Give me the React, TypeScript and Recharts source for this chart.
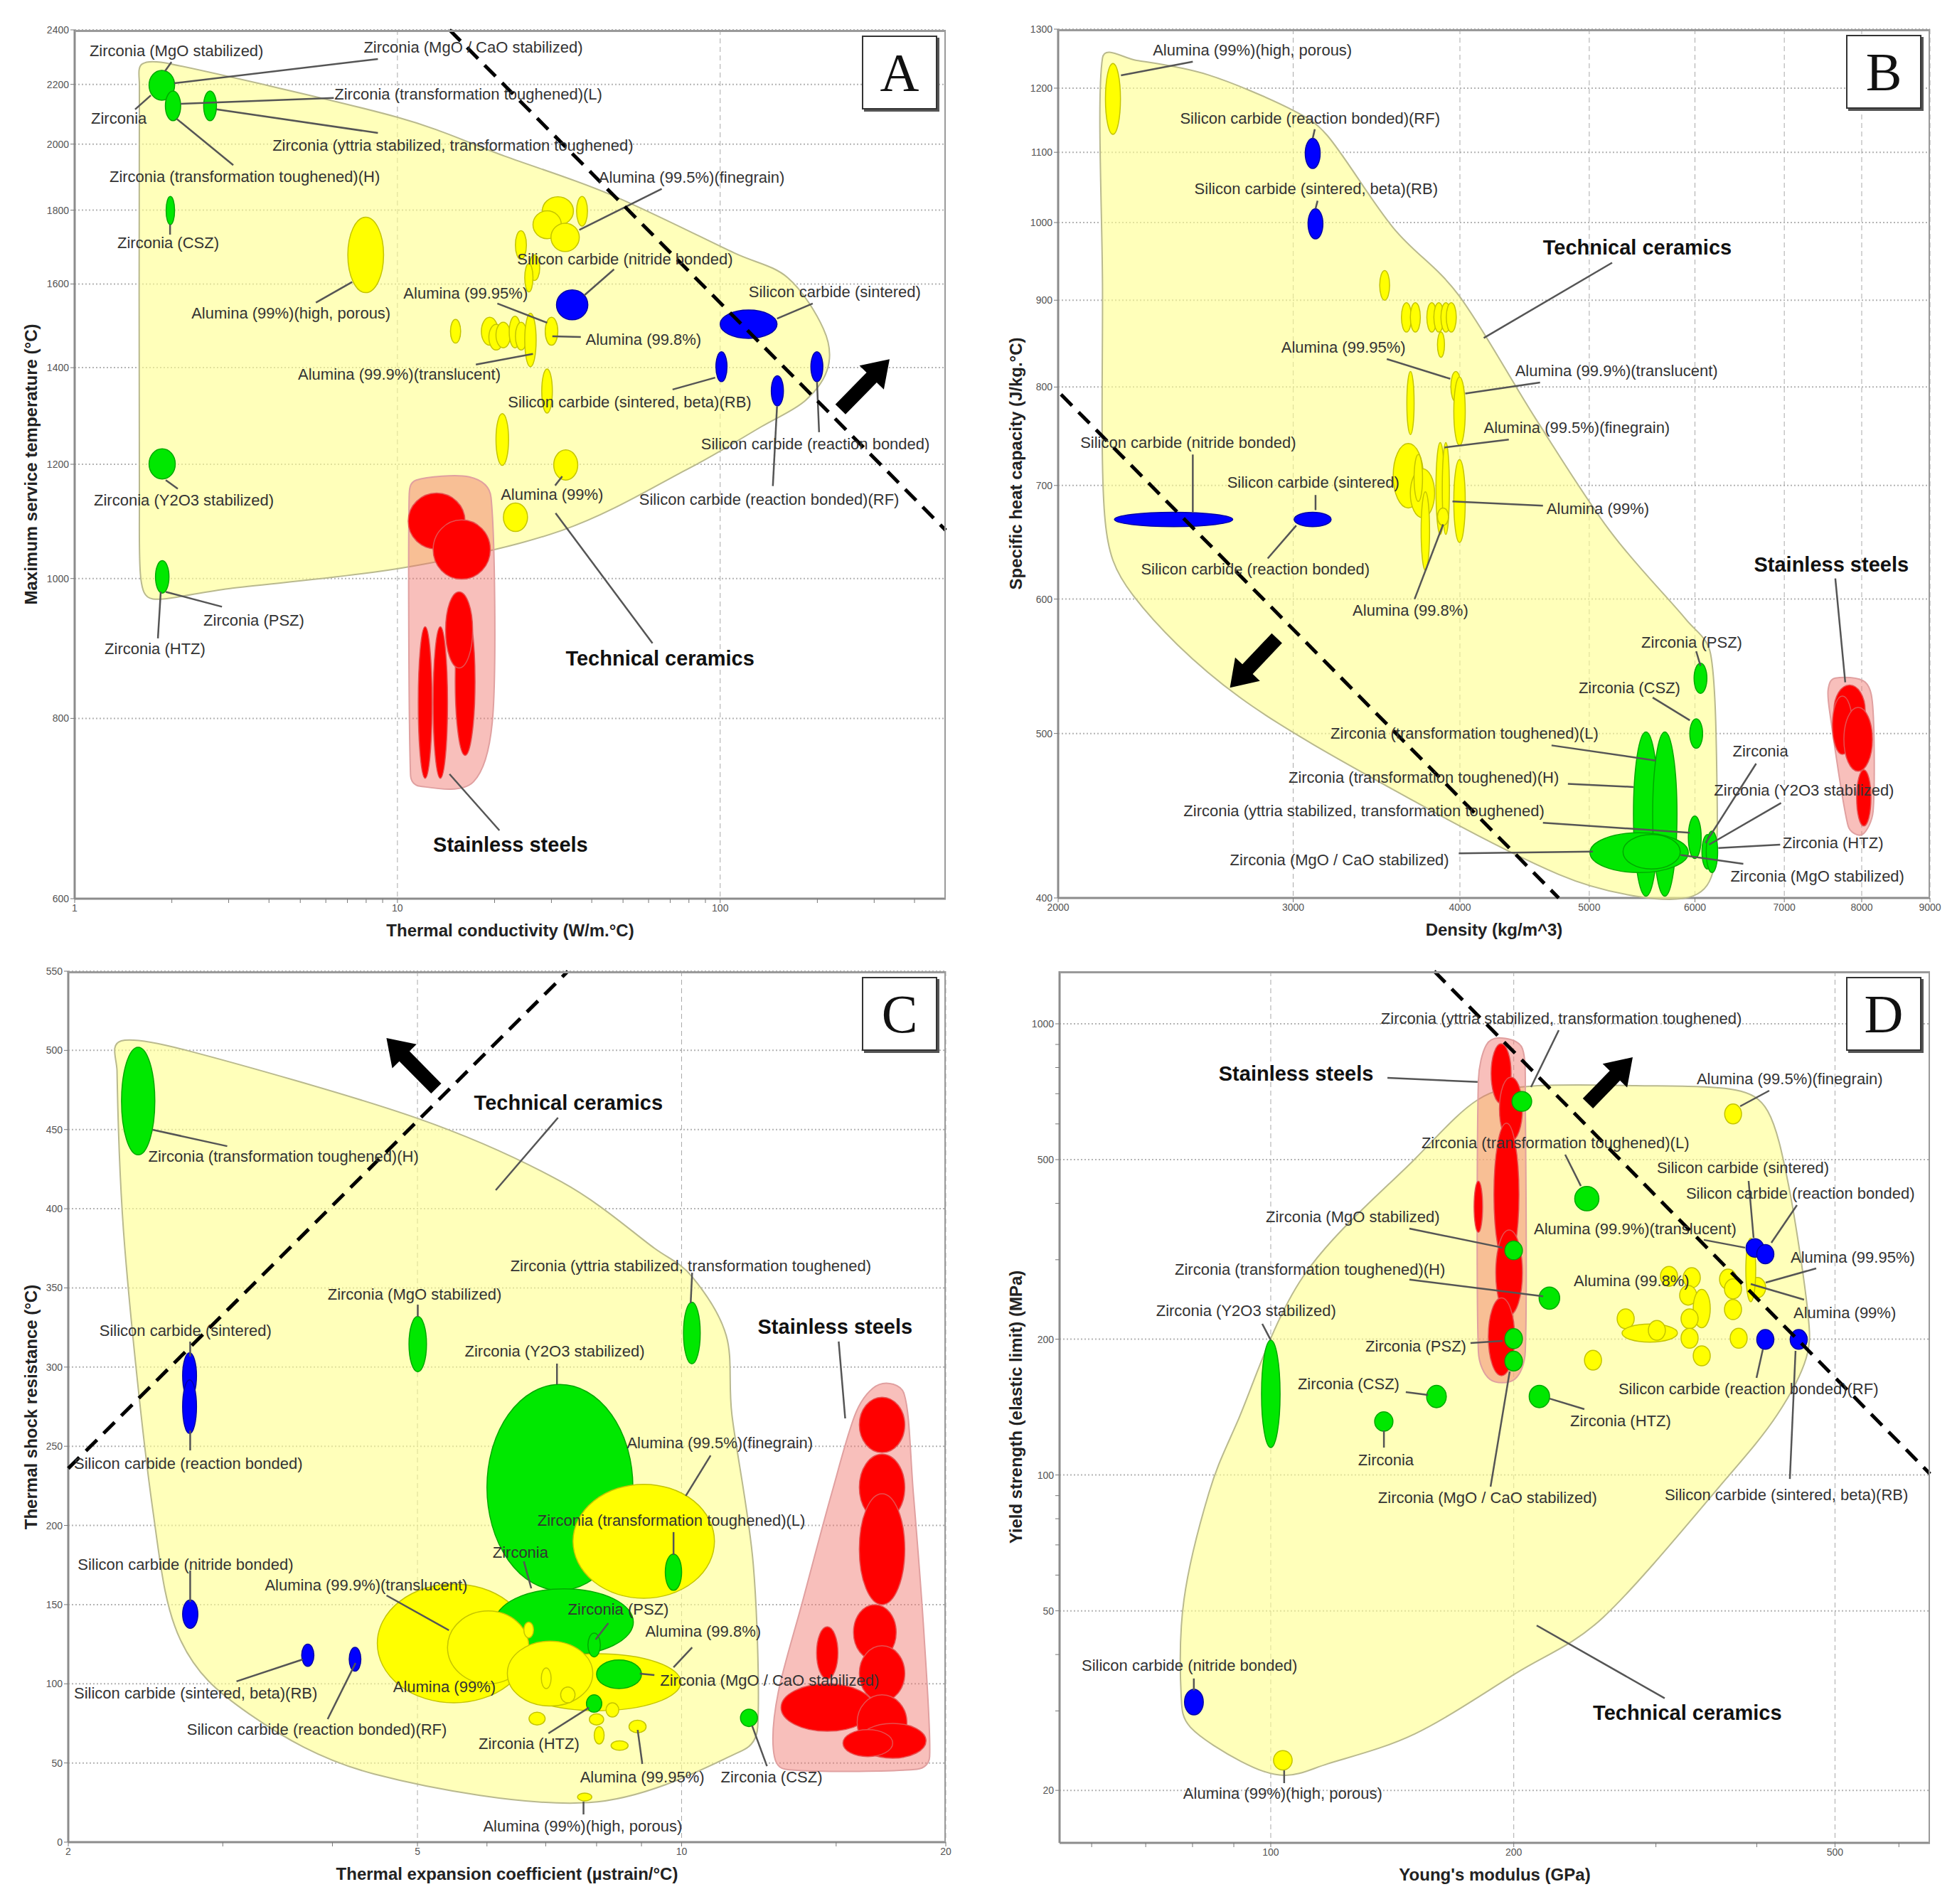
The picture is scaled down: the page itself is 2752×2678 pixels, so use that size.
import React from 'react';
import { ScatterChart, Scatter, XAxis, YAxis, CartesianGrid } from 'recharts';

type Fam = 'zr' | 'al' | 'sic' | 'ss';
type Ell = [Fam, number, number, number, number];
type Pt = [number, number];
type Lab = [string, number, number, number?];
type Seg = [number, number, number, number];

const FONT = '"Liberation Sans", Arial, Helvetica, sans-serif';
const FILL: Record<Fam, string> = { zr: '#00e800', al: '#ffff00', sic: '#0000ff', ss: '#ff0000' };
const EDGE: Record<Fam, string> = { zr: '#00a800', al: '#c4c400', sic: '#0000aa', ss: '#e65050' };

// ---------- A: max service temperature vs thermal conductivity
const A_X_MAJOR = [1, 10, 100];
const A_X_TICKS = [1, 2, 3, 4, 5, 6, 7, 8, 9, 10, 20, 30, 40, 50, 60, 70, 80, 90, 100, 200, 300, 400];
const A_Y_MAJOR = [600, 800, 1000, 1200, 1400, 1600, 1800, 2000, 2200, 2400];
const A_HULL: Pt[] = [[1.62, 2273], [1.985, 2273], [9.97, 2088], [21.5, 1962], [45.8, 1845], [110.7, 1681], [162, 1616], [209, 1489], [216, 1402], [184, 1329], [134, 1274], [78.8, 1190], [32.4, 1080], [10.6, 1018], [3.0, 984], [1.748, 968], [1.604, 999], [1.587, 1138], [1.587, 2197]];
const A_STEEL: Pt[] = [[11.44, 1170], [16.7, 1176], [19.5, 1138], [19.8, 810], [17.2, 723], [11.73, 718], [10.98, 731], [10.87, 1138]];
const A_ELL: Ell[] = [
  ['al', 7.02, 9.06, 1578, 1780], ['al', 28.1, 35.1, 1757, 1839], ['al', 26.3, 32.2, 1720, 1798], ['al', 29.9, 36.6, 1685, 1763],
  ['al', 35.9, 38.8, 1755, 1840], ['al', 23.2, 25.1, 1664, 1742], ['al', 25.6, 27.6, 1609, 1676], ['al', 24.8, 26.3, 1580, 1653],
  ['al', 14.6, 15.7, 1456, 1512], ['al', 18.2, 20.5, 1451, 1517], ['al', 19.2, 21.3, 1440, 1500], ['al', 20.2, 22.4, 1445, 1505],
  ['al', 22.2, 24.1, 1445, 1520], ['al', 23.2, 25.2, 1440, 1505], ['al', 24.8, 26.9, 1402, 1527], ['al', 28.7, 31.4, 1451, 1517],
  ['al', 28.0, 30.2, 1302, 1397], ['al', 20.2, 22.1, 1198, 1301], ['al', 30.5, 36.2, 1170, 1228], ['al', 21.3, 25.3, 1078, 1128],
  ['sic', 31.1, 38.9, 1511, 1585], ['sic', 100, 150, 1467, 1535], ['sic', 97, 105, 1369, 1436], ['sic', 144, 157, 1317, 1382], ['sic', 191, 208, 1369, 1436],
  ['zr', 1.70, 2.04, 2145, 2250], ['zr', 1.91, 2.13, 2076, 2177], ['zr', 2.51, 2.75, 2076, 2177], ['zr', 1.92, 2.04, 1759, 1840],
  ['zr', 1.70, 2.05, 1172, 1230], ['zr', 1.78, 1.96, 977, 1029],
  ['ss', 11.6, 12.8, 727, 926], ['ss', 12.9, 14.3, 727, 926], ['ss', 15.1, 17.4, 754, 956], ['ss', 14.1, 17.1, 867, 979],
  ['ss', 10.8, 16.2, 1048, 1146], ['ss', 12.9, 19.4, 999, 1098],
];
const A_LABELS: Lab[] = [
  ['Zirconia (MgO stabilized)', 1.112, 2320], ['Zirconia (MgO / CaO stabilized)', 7.86, 2333],
  ['Zirconia (transformation toughened)(L)', 6.38, 2165], ['Zirconia', 1.124, 2083],
  ['Zirconia (yttria stabilized, transformation toughened)', 4.10, 1996], ['Zirconia (transformation toughened)(H)', 1.282, 1899],
  ['Zirconia (CSZ)', 1.356, 1708], ['Alumina (99%)(high, porous)', 2.30, 1527], ['Alumina (99.5%)(finegrain)', 42.0, 1897],
  ['Silicon carbide (nitride bonded)', 23.5, 1664], ['Silicon carbide (sintered)', 122.5, 1580], ['Alumina (99.95%)', 10.44, 1576],
  ['Alumina (99.8%)', 38.3, 1465], ['Alumina (99.9%)(translucent)', 4.92, 1385], ['Silicon carbide (sintered, beta)(RB)', 22.0, 1325],
  ['Silicon carbide (reaction bonded)', 87.2, 1239], ['Silicon carbide (reaction bonded)(RF)', 56.1, 1135], ['Alumina (99%)', 20.9, 1144],
  ['Zirconia (Y2O3 stabilized)', 1.147, 1133], ['Zirconia (PSZ)', 2.506, 936], ['Zirconia (HTZ)', 1.238, 894],
  ['Technical ceramics', 33.2, 880, 1], ['Stainless steels', 12.9, 654, 1],
];
const A_LEADERS: Seg[] = [
  [1.995, 2280, 1.905, 2247], [8.70, 2291, 2.035, 2204], [6.35, 2153, 2.131, 2133], [1.539, 2114, 1.722, 2162],
  [2.747, 2114, 8.70, 2036], [2.067, 2083, 3.10, 1934], [1.975, 1759, 1.975, 1731], [7.24, 1605, 5.59, 1553],
  [65.9, 1862, 36.6, 1744], [46.9, 1638, 37.9, 1571], [193.5, 1551, 150, 1514], [20.4, 1551, 29.1, 1504],
  [37.0, 1470, 30.2, 1472], [17.5, 1407, 26.3, 1431], [71.2, 1352, 96.5, 1378], [202.5, 1263, 199.5, 1369],
  [145.6, 1159, 150, 1316], [30.8, 1160, 32.4, 1177], [2.087, 1154, 1.915, 1170], [2.86, 956, 1.915, 979],
  [1.811, 909, 1.848, 979], [61.7, 902, 30.9, 1110], [20.7, 669, 14.5, 732],
];
const A_TREND: Pt[] = [[14.5, 2400], [500, 1080]];
const A_ARROW: Pt[] = [[235.8, 1310], [334.8, 1419]];

// ---------- B: specific heat vs density
const B_X_MAJOR = [2000, 3000, 4000, 5000, 6000, 7000, 8000, 9000];
const B_Y_MAJOR = [400, 500, 600, 700, 800, 900, 1000, 1100, 1200, 1300];
const B_HULL: Pt[] = [[2159, 1250], [2290, 1246], [2589, 1222], [2983, 1167], [3180, 1126], [3565, 993], [3992, 906], [4560, 766], [5182, 658], [5904, 584], [6164, 557], [6232, 468], [6201, 417], [5977, 401], [5417, 401], [4743, 413], [3699, 456], [2737, 525], [2276, 603], [2169, 667], [2159, 920]];
const B_STEEL: Pt[] = [[7644, 539], [8049, 536], [8159, 515], [8159, 450], [8009, 436], [7815, 441], [7570, 515], [7551, 531]];
const B_ELL: Ell[] = [
  ['al', 2170, 2227, 1127, 1241], ['al', 3483, 3543, 900, 937], ['al', 3616, 3679, 862, 897], ['al', 3672, 3736, 862, 897],
  ['al', 3778, 3843, 862, 897], ['al', 3824, 3890, 862, 897], ['al', 3871, 3938, 862, 897], ['al', 3907, 3975, 862, 897],
  ['al', 3848, 3895, 833, 862], ['al', 3650, 3696, 750, 817], ['al', 3938, 4006, 784, 817], ['al', 3958, 4037, 739, 811],
  ['al', 3565, 3755, 679, 741], ['al', 3672, 3829, 670, 716], ['al', 3696, 3750, 685, 730], ['al', 3741, 3796, 624, 694],
  ['al', 3838, 3895, 655, 742], ['al', 3880, 3928, 655, 742], ['al', 3848, 3922, 663, 679], ['al', 3958, 4037, 648, 725],
  ['sic', 3063, 3143, 1076, 1121], ['sic', 3078, 3158, 978, 1019], ['sic', 2204, 2703, 662, 675], ['sic', 3005, 3203, 662, 675],
  ['zr', 5991, 6125, 528, 550], ['zr', 5947, 6080, 490, 510], ['zr', 5396, 5634, 401, 501], ['zr', 5578, 5817, 401, 501],
  ['zr', 5006, 5932, 414, 437], ['zr', 5300, 5850, 416, 436], ['zr', 5932, 6065, 422, 447], ['zr', 6073, 6193, 416, 436],
  ['zr', 6118, 6240, 414, 438],
  ['ss', 7625, 8049, 498, 534], ['ss', 7606, 7872, 486, 526], ['ss', 7758, 8149, 475, 518], ['ss', 7930, 8129, 441, 476],
];
const B_LABELS: Lab[] = [
  ['Alumina (99%)(high, porous)', 2355, 1263], ['Silicon carbide (reaction bonded)(RF)', 2468, 1152],
  ['Silicon carbide (sintered, beta)(RB)', 2530, 1047], ['Technical ceramics', 4616, 967, 1], ['Alumina (99.95%)', 2939, 844],
  ['Alumina (99.9%)(translucent)', 4400, 818], ['Alumina (99.5%)(finegrain)', 4168, 757], ['Silicon carbide (nitride bonded)', 2078, 742],
  ['Silicon carbide (sintered)', 2677, 703], ['Alumina (99%)', 4645, 678], ['Silicon carbide (reaction bonded)', 2307, 625],
  ['Alumina (99.8%)', 3324, 591], ['Stainless steels', 6643, 629, 1], ['Zirconia (PSZ)', 5470, 566], ['Zirconia (CSZ)', 4909, 532],
  ['Zirconia (transformation toughened)(L)', 3200, 500], ['Zirconia', 6403, 488], ['Zirconia (transformation toughened)(H)', 2976, 471],
  ['Zirconia (Y2O3 stabilized)', 6201, 463], ['Zirconia (yttria stabilized, transformation toughened)', 2483, 450],
  ['Zirconia (HTZ)', 6979, 431], ['Zirconia (MgO / CaO stabilized)', 2690, 421], ['Zirconia (MgO stabilized)', 6379, 412],
];
const B_LEADERS: Seg[] = [
  [2523, 1244, 2229, 1221], [3114, 1135, 3103, 1121], [3129, 1030, 3118, 1019], [5201, 947, 4168, 855], [3526, 831, 3934, 809],
  [4593, 805, 4037, 793], [4352, 745, 3895, 737], [2523, 730, 2523, 675], [3118, 691, 3118, 677], [4616, 681, 3949, 685],
  [2871, 634, 3016, 663], [3699, 600, 3886, 664], [7644, 617, 7776, 536], [6013, 559, 6058, 548], [5578, 525, 5947, 509],
  [4685, 492, 5607, 482], [6668, 480, 6111, 431], [4819, 467, 5396, 465], [6961, 455, 6148, 430], [4616, 443, 5947, 437],
  [6950, 430, 6247, 428], [3992, 425, 5031, 426], [6522, 419, 5853, 424],
];
const B_TREND: Pt[] = [[2010, 792], [4743, 400]];
const B_ARROW: Pt[] = [[2917, 569], [2690, 532]];

// ---------- C: thermal shock resistance vs thermal expansion
const C_X_MAJOR = [2, 5, 10, 20];
const C_X_TICKS = [2, 3, 4, 5, 6, 7, 8, 9, 10, 15, 20];
const C_Y_MAJOR = [0, 50, 100, 150, 200, 250, 300, 350, 400, 450, 500, 550];
const C_HULL: Pt[] = [[2.298, 506], [2.729, 500], [5.004, 457], [7.293, 417], [9.313, 375], [10.28, 357], [11.24, 320], [11.41, 270], [12.07, 175], [12.21, 73], [11.74, 58], [7.844, 25], [4.465, 43], [3.215, 81], [2.683, 128], [2.495, 211], [2.320, 375], [2.273, 487]];
const C_STEEL: Pt[] = [[15.82, 272], [16.79, 289], [17.93, 283], [18.37, 220], [18.89, 131], [19.17, 54], [18.54, 46], [13.13, 46], [12.72, 59], [12.89, 95], [13.75, 153], [14.82, 220]];
const C_ELL: Ell[] = [
  ['al', 4.50, 6.72, 88, 163], ['zr', 6.0, 8.8, 159, 289], ['zr', 6.13, 8.81, 118, 160], ['al', 7.52, 10.9, 154, 226],
  ['al', 5.41, 6.70, 100, 146], ['al', 6.45, 9.98, 83, 119], ['al', 6.33, 7.92, 86, 127],
  ['al', 6.70, 6.99, 74, 82], ['al', 8.71, 9.11, 69, 77], ['al', 8.31, 8.69, 58, 64], ['al', 7.85, 8.15, 74, 81],
  ['al', 7.95, 8.16, 62, 73], ['al', 8.20, 8.48, 79, 88], ['al', 6.92, 7.10, 97, 110], ['al', 7.28, 7.56, 88, 98],
  ['al', 6.61, 6.78, 129, 139], ['al', 7.61, 7.90, 26, 31],
  ['zr', 2.30, 2.51, 434, 502], ['zr', 4.89, 5.12, 297, 332], ['zr', 10.05, 10.5, 302, 341], ['zr', 8.0, 9.0, 97, 115],
  ['zr', 9.58, 10.0, 159, 182], ['zr', 7.82, 8.08, 117, 132], ['zr', 7.79, 8.11, 82, 93], ['zr', 11.67, 12.2, 73, 84],
  ['sic', 2.70, 2.80, 280, 309], ['sic', 2.70, 2.80, 258, 292], ['sic', 2.70, 2.81, 135, 153], ['sic', 3.69, 3.81, 111, 125], ['sic', 4.18, 4.31, 108, 123],
  ['ss', 15.94, 17.96, 246, 281], ['ss', 15.94, 17.96, 203, 245], ['ss', 15.94, 17.96, 150, 220], ['ss', 15.7, 17.56, 115, 150],
  ['ss', 15.94, 17.96, 89, 124], ['ss', 14.25, 15.07, 103, 136], ['ss', 12.98, 16.55, 70, 100], ['ss', 15.85, 18.06, 58, 93],
  ['ss', 15.94, 18.99, 53, 75], ['ss', 15.27, 17.4, 54, 71],
];
const C_LABELS: Lab[] = [
  ['Technical ceramics', 5.80, 467, 1], ['Zirconia (transformation toughened)(H)', 2.467, 433],
  ['Zirconia (yttria stabilized, transformation toughened)', 6.38, 364], ['Zirconia (MgO stabilized)', 3.95, 346],
  ['Silicon carbide (sintered)', 2.17, 323], ['Zirconia (Y2O3 stabilized)', 5.66, 310], ['Stainless steels', 12.21, 325.5, 1],
  ['Silicon carbide (reaction bonded)', 2.03, 239], ['Alumina (99.5%)(finegrain)', 8.66, 252],
  ['Zirconia (transformation toughened)(L)', 6.85, 203], ['Silicon carbide (nitride bonded)', 2.05, 175.5], ['Zirconia', 6.09, 183],
  ['Alumina (99.9%)(translucent)', 3.35, 162.5], ['Zirconia (PSZ)', 7.42, 147], ['Alumina (99.8%)', 9.09, 133],
  ['Silicon carbide (sintered, beta)(RB)', 2.03, 94], ['Alumina (99%)', 4.69, 98], ['Zirconia (MgO / CaO stabilized)', 9.45, 102],
  ['Silicon carbide (reaction bonded)(RF)', 2.73, 71], ['Zirconia (HTZ)', 5.87, 62], ['Alumina (99.95%)', 7.66, 41],
  ['Zirconia (CSZ)', 11.08, 41], ['Alumina (99%)(high, porous)', 5.94, 10],
];
const C_LEADERS: Seg[] = [
  [7.23, 457.5, 6.14, 411.7], [3.035, 439.5, 2.495, 449.9], [10.28, 359.6, 10.24, 340.3], [5.004, 339.4, 5.004, 331.8],
  [2.754, 316.1, 2.754, 306.6], [7.21, 302.2, 7.21, 289.1], [15.10, 316.1, 15.36, 267.6], [2.754, 247.4, 2.754, 260],
  [10.79, 244.2, 10.11, 218.7], [9.79, 195.8, 9.79, 181.4], [2.754, 171.5, 2.754, 151.8], [6.61, 177.3, 6.74, 160.3],
  [4.61, 155.8, 5.43, 133.8], [8.25, 138.3, 7.98, 128], [10.28, 123, 9.79, 110.4], [3.11, 101.5, 3.70, 115.4],
  [9.31, 105.5, 8.96, 106.4], [3.95, 77.7, 4.25, 113.1], [7.05, 68.7, 7.84, 84.9], [9.02, 49.4, 8.91, 70.9],
  [12.51, 48, 12.03, 73.6], [7.73, 17.5, 7.73, 25.6],
];
const C_TREND: Pt[] = [[2.0, 236], [7.42, 550]];
const C_ARROW: Pt[] = [[5.252, 475.9], [4.609, 507.8]];

// ---------- D: yield strength vs Young's modulus
const D_X_MAJOR = [100, 200, 500];
const D_X_TICKS = [60, 70, 80, 90, 100, 200, 300, 400, 500, 600];
const D_Y_MAJOR = [20, 50, 100, 200, 500, 1000];
const D_Y_TICKS = [20, 30, 40, 50, 60, 70, 80, 90, 100, 200, 300, 400, 500, 600, 700, 800, 900, 1000];
const D_HULL: Pt[] = [[103.9, 21.6], [91.83, 23.2], [79.52, 27.6], [77.45, 32.4], [78.07, 52.9], [83.82, 91.2], [90.91, 131.1], [109.6, 274.8], [150.9, 501.9], [180.4, 678.3], [208.8, 726.7], [283.1, 729.3], [376, 713.6], [412.8, 640], [437.8, 440.4], [462.5, 230.9], [460.6, 181.7], [423.9, 135.9], [367.8, 98.8], [257.9, 48.3], [201, 36.3], [150.9, 26.7], [117.6, 22.9]];
const D_STEEL: Pt[] = [[193.3, 930], [205, 881], [206.7, 671], [206.7, 188], [200.5, 163], [186.8, 163], [180.8, 188], [180.8, 748], [184.9, 897]];
const D_ELL: Ell[] = [
  ['al', 365, 383, 600, 664], ['al', 303.9, 319.1, 262, 290], ['al', 324.3, 340.5, 260, 288], ['al', 321, 337, 238, 263],
  ['al', 333.7, 350.3, 212, 258], ['al', 322.3, 338.4, 211, 233.5], ['al', 322.3, 338.4, 191, 211.5], ['al', 333.7, 350.3, 174.6, 193.3],
  ['al', 268.6, 282, 211, 233.5], ['al', 272.4, 319, 197, 216], ['al', 293.6, 308.2, 199, 220], ['al', 359.7, 377.6, 258, 286],
  ['al', 364.8, 383, 245.6, 272], ['al', 364.8, 383, 221, 245], ['al', 370.8, 389.2, 191, 211.5], ['al', 390.9, 410.3, 247, 274],
  ['al', 244.7, 256.9, 170.8, 189], ['al', 387.7, 398.8, 242, 335], ['al', 100.8, 106.3, 22.2, 24.5],
  ['sic', 388, 408, 304, 334], ['sic', 400, 420, 294, 324], ['sic', 400, 420, 190, 210], ['sic', 440, 462, 190, 210], ['sic', 78.2, 82.5, 29.4, 33.5],
  ['ss', 187.5, 198.5, 666, 903], ['ss', 192, 205, 550, 762], ['ss', 189, 203, 291, 602], ['ss', 190, 205, 226, 349],
  ['ss', 186, 200.5, 166, 247], ['ss', 178.6, 183, 345, 448],
  ['zr', 199, 210.5, 640, 708], ['zr', 238, 255, 385, 436], ['zr', 195, 205, 300, 330], ['zr', 215, 228, 233, 261],
  ['zr', 195, 205, 190.5, 211], ['zr', 195, 205, 170, 188], ['zr', 156, 165, 141, 158], ['zr', 209, 221.5, 141, 158],
  ['zr', 134.5, 141.7, 125, 138], ['zr', 97.4, 102.7, 115, 199],
];
const D_LABELS: Lab[] = [
  ['Zirconia (yttria stabilized, transformation toughened)', 136.9, 1026], ['Stainless steels', 86.2, 776, 1],
  ['Alumina (99.5%)(finegrain)', 337, 756], ['Zirconia (transformation toughened)(L)', 153.7, 545.5],
  ['Silicon carbide (sintered)', 300.8, 479], ['Silicon carbide (reaction bonded)', 326.9, 421.6], ['Zirconia (MgO stabilized)', 98.6, 374],
  ['Alumina (99.9%)(translucent)', 211.8, 351.7], ['Alumina (99.95%)', 440.5, 304], ['Zirconia (transformation toughened)(H)', 76.05, 285],
  ['Alumina (99.8%)', 237.3, 269], ['Alumina (99%)', 444.1, 229], ['Zirconia (Y2O3 stabilized)', 72.1, 231], ['Zirconia (PSZ)', 131, 193],
  ['Silicon carbide (reaction bonded)(RF)', 269.6, 155.4], ['Zirconia (CSZ)', 108, 159], ['Zirconia (HTZ)', 234.9, 131.6],
  ['Zirconia', 128.3, 107.8], ['Zirconia (MgO / CaO stabilized)', 135.8, 89.2], ['Silicon carbide (sintered, beta)(RB)', 307.6, 90.5],
  ['Silicon carbide (nitride bonded)', 58.3, 37.8], ['Technical ceramics', 250.7, 29.7, 1], ['Alumina (99%)(high, porous)', 77.9, 19.7],
];
const D_LEADERS: Seg[] = [
  [227.4, 968, 210.1, 724], [139.5, 759, 180.4, 743], [414.5, 711, 381.5, 656.5], [231.6, 513, 242.2, 437],
  [390.8, 448.5, 396.4, 335.5], [448.6, 396.4, 417, 327], [148.5, 351.7, 193.7, 319], [343.9, 332, 386.9, 319],
  [473.9, 287, 410.3, 267], [148.5, 271, 217.5, 249], [457.8, 244.7, 393.2, 265], [97.6, 216.3, 100, 199],
  [176.8, 196.1, 193.7, 198.2], [399.7, 164.2, 407, 189.8], [147, 152.7, 156.6, 150.5], [244.6, 139.9, 221.5, 147.7],
  [138.1, 115, 138.1, 125.5], [187.2, 94.2, 197.7, 169.6], [439.6, 98, 446.8, 188.4], [80.3, 35.4, 80.3, 33.3],
  [307.6, 32, 213.5, 46.4], [103.9, 20.75, 103.9, 22.15],
];
const D_TREND: Pt[] = [[159.4, 1308], [655.6, 100.6]];
const D_ARROW: Pt[] = [[247.1, 666], [280.8, 843]];

// ---------- panel layout
const W = 1376;
const H = 1339;
const PANELS = [
  { letter: 'A', left: 0, top: 0, margin: { top: 42, right: 46, bottom: 35, left: 45 }, xScale: 'log', yScale: 'log',
    xDomain: [1, 500], yDomain: [600, 2400], xTicks: A_X_TICKS, xMajor: A_X_MAJOR, yTicks: A_Y_MAJOR, yMajor: A_Y_MAJOR,
    hull: A_HULL, steel: A_STEEL, ell: A_ELL, labels: A_LABELS, leaders: A_LEADERS, trend: A_TREND, arrow: A_ARROW,
    xTitle: 'Thermal conductivity (W/m.°C)', yTitle: 'Maximum service temperature (°C)', yTitleX: 44 },
  { letter: 'B', left: 1376, top: 0, margin: { top: 41, right: 38, bottom: 36, left: 52 }, xScale: 'log', yScale: 'log',
    xDomain: [2000, 9000], yDomain: [400, 1300], xTicks: B_X_MAJOR, xMajor: B_X_MAJOR, yTicks: B_Y_MAJOR, yMajor: B_Y_MAJOR,
    hull: B_HULL, steel: B_STEEL, ell: B_ELL, labels: B_LABELS, leaders: B_LEADERS, trend: B_TREND, arrow: B_ARROW,
    xTitle: 'Density (kg/m^3)', yTitle: 'Specific heat capacity (J/kg.°C)', yTitleX: 53 },
  { letter: 'C', left: 0, top: 1339, margin: { top: 27, right: 46, bottom: 47, left: 36 }, xScale: 'log', yScale: 'linear',
    xDomain: [2, 20], yDomain: [0, 550], xTicks: C_X_TICKS, xMajor: C_X_MAJOR, yTicks: C_Y_MAJOR, yMajor: C_Y_MAJOR,
    hull: C_HULL, steel: C_STEEL, ell: C_ELL, labels: C_LABELS, leaders: C_LEADERS, trend: C_TREND, arrow: C_ARROW,
    xTitle: 'Thermal expansion coefficient (µstrain/°C)', yTitle: 'Thermal shock resistance (°C)', yTitleX: 44 },
  { letter: 'D', left: 1376, top: 1339, margin: { top: 27, right: 38, bottom: 46, left: 54 }, xScale: 'log', yScale: 'log',
    xDomain: [54.75, 655], yDomain: [15.3, 1308], xTicks: D_X_TICKS, xMajor: D_X_MAJOR, yTicks: D_Y_TICKS, yMajor: D_Y_MAJOR,
    hull: D_HULL, steel: D_STEEL, ell: D_ELL, labels: D_LABELS, leaders: D_LEADERS, trend: D_TREND, arrow: D_ARROW,
    xTitle: "Young's modulus (GPa)", yTitle: 'Yield strength (elastic limit) (MPa)', yTitleX: 53 },
];

// ---------- drawing helpers (pixel points come from Recharts' scales)
// closed Catmull-Rom curve, tangents clamped so short edges at corners do not overshoot
function closedPath(pts: { x: number; y: number }[]) {
  const n = pts.length;
  let d = `M${pts[0].x},${pts[0].y}`;
  for (let i = 0; i < n; i++) {
    const p0 = pts[(i - 1 + n) % n], p1 = pts[i], p2 = pts[(i + 1) % n], p3 = pts[(i + 2) % n];
    const seg = Math.hypot(p2.x - p1.x, p2.y - p1.y);
    const t1x = (p2.x - p0.x) / 6, t1y = (p2.y - p0.y) / 6;
    const t2x = (p3.x - p1.x) / 6, t2y = (p3.y - p1.y) / 6;
    const l1 = Math.hypot(t1x, t1y), l2 = Math.hypot(t2x, t2y);
    const k1 = l1 > 0.4 * seg ? (0.4 * seg) / l1 : 1;
    const k2 = l2 > 0.4 * seg ? (0.4 * seg) / l2 : 1;
    d += ` C${p1.x + t1x * k1},${p1.y + t1y * k1} ${p2.x - t2x * k2},${p2.y - t2y * k2} ${p2.x},${p2.y}`;
  }
  return d + 'Z';
}

const noDot = () => <g />;

const regionLine = (fill: string, opacity: number, stroke: string) => (p: any) => (
  <path d={closedPath(p.points)} fill={fill} fillOpacity={opacity} stroke={stroke} strokeWidth={2} />
);

const ellipseLine = (fam: Fam) => (p: any) => {
  const [a, b] = p.points;
  return (
    <ellipse cx={(a.x + b.x) / 2} cy={(a.y + b.y) / 2} rx={Math.abs(b.x - a.x) / 2} ry={Math.abs(b.y - a.y) / 2}
      fill={FILL[fam]} stroke={EDGE[fam]} strokeWidth={1.5} />
  );
};

const leaderLine = (p: any) => {
  const [a, b] = p.points;
  return <line x1={a.x} y1={a.y} x2={b.x} y2={b.y} stroke="#555" strokeWidth={2.5} />;
};

const trendLine = (p: any) => {
  const [a, b] = p.points;
  return <line x1={a.x} y1={a.y} x2={b.x} y2={b.y} stroke="#000" strokeWidth={5} strokeDasharray="22 13" />;
};

const arrowLine = (p: any) => {
  const [a, b] = p.points;
  const dx = b.x - a.x, dy = b.y - a.y;
  const len = Math.hypot(dx, dy) || 1;
  const ux = dx / len, uy = dy / len, nx = -uy, ny = ux;
  const hl = 36, sw = 10, hw = 24;
  const bx = b.x - ux * hl, by = b.y - uy * hl;
  const pts = [
    [a.x + nx * sw, a.y + ny * sw], [bx + nx * sw, by + ny * sw], [bx + nx * hw, by + ny * hw], [b.x, b.y],
    [bx - nx * hw, by - ny * hw], [bx - nx * sw, by - ny * sw], [a.x - nx * sw, a.y - ny * sw],
  ];
  return <polygon points={pts.map((q) => q.join(',')).join(' ')} fill="#000" />;
};

const labelShape = (props: any) => {
  const d = props.payload || props;
  const bold = !!d.bold;
  return (
    <text x={props.cx} y={props.cy} dominantBaseline="central" fontFamily={FONT}
      fontSize={bold ? 29 : 22} fontWeight={bold ? 700 : 400} fill={bold ? '#111' : '#333'}>
      {d.text}
    </text>
  );
};

const pts = (arr: Pt[]) => arr.map(([x, y]) => ({ x, y }));

function Panel({ p }: { p: any }) {
  const m = p.margin;
  const plotL = m.left + 60;
  const plotT = m.top;
  const plotR = W - m.right;
  const plotB = H - m.bottom - 40;
  const fmt = (major: number[]) => (v: number) => (major.includes(v) ? String(v) : '');
  const tickStyle = { fontSize: 14, fill: '#555', fontFamily: FONT };
  return (
    <div style={{ position: 'absolute', left: p.left, top: p.top, width: W, height: H }}>
      <ScatterChart width={W} height={H} margin={m}>
        <CartesianGrid vertical={false} horizontalValues={p.yMajor} stroke="#b4b4b4" strokeWidth={2} strokeDasharray="2 3" />
        <CartesianGrid horizontal={false} verticalValues={p.xMajor} stroke="#a9a9a9" strokeWidth={1} strokeDasharray="7 5" />
        <XAxis type="number" dataKey="x" scale={p.xScale} domain={p.xDomain} ticks={p.xTicks} interval={0} height={40}
          tickFormatter={fmt(p.xMajor)} tick={tickStyle} axisLine={{ stroke: '#8c8c8c', strokeWidth: 3 }} tickLine={{ stroke: '#777' }} />
        <YAxis type="number" dataKey="y" scale={p.yScale} domain={p.yDomain} ticks={p.yTicks} interval={0} width={60}
          tickFormatter={fmt(p.yMajor)} tick={tickStyle} axisLine={{ stroke: '#8c8c8c', strokeWidth: 3 }} tickLine={{ stroke: '#777' }} />
        <Scatter data={pts(p.hull)} line={regionLine('#ffff8c', 0.6, '#b9b98e')} shape={noDot} isAnimationActive={false} />
        <Scatter data={pts(p.steel)} line={regionLine('#f07068', 0.45, '#e0a0a0')} shape={noDot} isAnimationActive={false} />
        {p.ell.map((e: Ell, i: number) => (
          <Scatter key={'e' + i} data={[{ x: e[1], y: e[3] }, { x: e[2], y: e[4] }]} line={ellipseLine(e[0])}
            shape={noDot} isAnimationActive={false} />
        ))}
        {p.leaders.map((s: Seg, i: number) => (
          <Scatter key={'l' + i} data={[{ x: s[0], y: s[1] }, { x: s[2], y: s[3] }]} line={leaderLine}
            shape={noDot} isAnimationActive={false} />
        ))}
        <Scatter data={pts(p.trend)} line={trendLine} shape={noDot} isAnimationActive={false} />
        <Scatter data={pts(p.arrow)} line={arrowLine} shape={noDot} isAnimationActive={false} />
        <Scatter data={p.labels.map((l: Lab) => ({ x: l[1], y: l[2], text: l[0], bold: l[3] }))}
          shape={labelShape} isAnimationActive={false} />
      </ScatterChart>
      <div style={{ position: 'absolute', left: plotL, top: plotT, width: plotR - plotL, height: plotB - plotT,
        borderTop: '3px solid #9a9a9a', borderRight: '2px solid #9a9a9a', boxSizing: 'border-box', pointerEvents: 'none' }} />
      <div style={{ position: 'absolute', left: plotR - 118, top: plotT + 8, width: 106, height: 104, boxSizing: 'border-box',
        border: '2px solid #333', boxShadow: '3px 3px 0 #555', background: '#fff', display: 'flex', alignItems: 'center',
        justifyContent: 'center', fontFamily: '"Liberation Serif", "DejaVu Serif", serif', fontSize: 76, color: '#111' }}>
        {p.letter}
      </div>
      <div style={{ position: 'absolute', left: (plotL + plotR) / 2, top: plotB + 45, transform: 'translate(-50%, -50%)',
        whiteSpace: 'nowrap', fontFamily: FONT, fontWeight: 700, fontSize: 24, color: '#222' }}>
        {p.xTitle}
      </div>
      <div style={{ position: 'absolute', left: p.yTitleX, top: (plotT + plotB) / 2, transform: 'translate(-50%, -50%) rotate(-90deg)',
        whiteSpace: 'nowrap', fontFamily: FONT, fontWeight: 700, fontSize: 24, color: '#222' }}>
        {p.yTitle}
      </div>
    </div>
  );
}

export default function App() {
  return (
    <div style={{ position: 'absolute', left: 0, top: 0, width: 2752, height: 2678, background: '#fff', overflow: 'hidden' }}>
      {PANELS.map((p) => (
        <Panel key={p.letter} p={p} />
      ))}
    </div>
  );
}
